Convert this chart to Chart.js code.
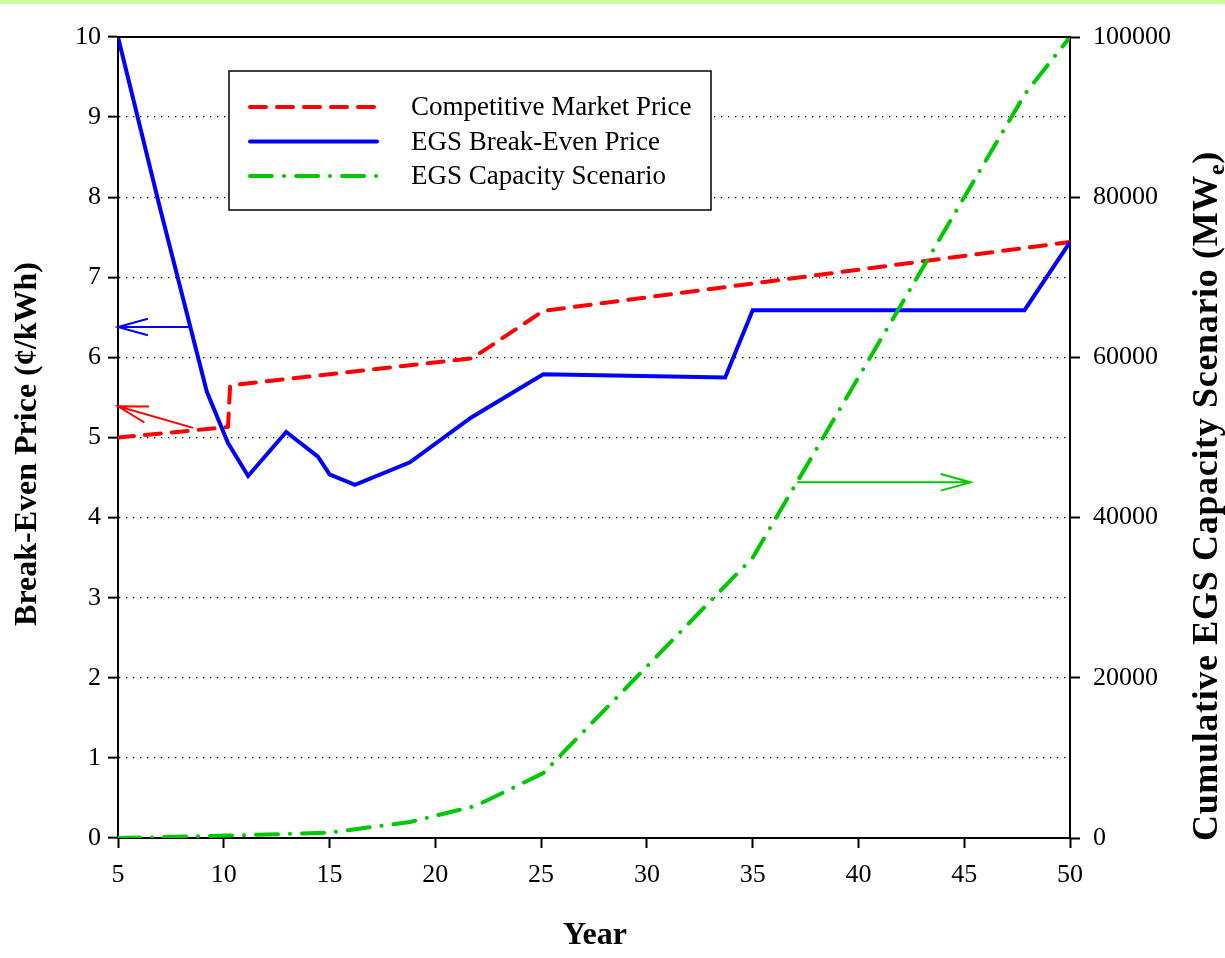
<!DOCTYPE html>
<html>
<head>
<meta charset="utf-8">
<title>EGS Break-Even Price</title>
<script src="https://cdn.jsdelivr.net/npm/chart.js@4.4.0/dist/chart.umd.min.js"></script>
<style>
  html, body { margin: 0; padding: 0; background: #ffffff; }
  canvas { display: block; }
</style>
</head>
<body>
<canvas id="chart" width="1225" height="958"></canvas>
<script>
// ---- data -------------------------------------------------------------
const yearTicks = [5, 10, 15, 20, 25, 30, 35, 40, 45, 50];
const priceTicks = [0, 1, 2, 3, 4, 5, 6, 7, 8, 9, 10];
const capacityTicks = [0, 20000, 40000, 60000, 80000, 100000];

// Competitive market price (cents/kWh)
const marketYears  = [5, 10.2, 10.3, 21.75, 25.1, 50];
const marketPrice  = [5.0, 5.13, 5.65, 5.99, 6.58, 7.44];

// EGS break-even price (cents/kWh)
const egsYears     = [5, 7, 9.2, 10.2, 11.15, 12.95, 14.45, 15.0, 16.2, 18.8, 21.7, 25.1, 33.7, 35.0, 47.85, 50];
const egsPrice     = [10, 7.85, 5.57, 4.93, 4.52, 5.07, 4.76, 4.54, 4.41, 4.69, 5.25, 5.79, 5.75, 6.59, 6.59, 7.44];

// Cumulative EGS capacity scenario (MWe)
const capYears     = [5, 10.2, 15, 16.2, 18.8, 21.9, 25.1, 35, 40, 45, 47.9, 50];
const capacity     = [0, 300, 660, 1100, 2000, 4000, 8100, 35000, 57500, 80000, 93000, 100000];

// Arrows tying each curve to its axis: [year, value] pairs
const priceArrowBlue  = [[8.4, 6.38], [5, 6.38]];
const priceArrowRed   = [[8.55, 5.12], [5, 5.39]];
const capacityArrow   = [[37.1, 44400], [45.3, 44400]];

const seriesNames = ['Competitive Market Price', 'EGS Break-Even Price', 'EGS Capacity Scenario'];

// ---- styling ----------------------------------------------------------
const RED = '#ff0000', BLUE = '#0000ff', GREEN = '#00c800';
const SERIF = '"Liberation Serif", "Times New Roman", serif';
const tickFont = { family: SERIF, size: 26 };
const redDash = [16, 11];
const greenDash = [22, 12, 0.01, 12];

const pairs = (xs, ys) => xs.map((x, i) => ({ x: x, y: ys[i] }));
const setTicks = list => scale => { scale.ticks = list.map(v => ({ value: v })); };

// Background, top band, frame line, titles, arrows and the boxed key
const decorations = {
  id: 'decorations',
  beforeDraw(chart) {
    const ctx = chart.ctx;
    ctx.save();
    ctx.fillStyle = '#ffffff';
    ctx.fillRect(0, 0, chart.width, chart.height);
    ctx.fillStyle = '#ccff99';
    ctx.fillRect(0, 0, chart.width, 4);
    ctx.restore();
  },
  afterDatasetsDraw(chart) {
    const ctx = chart.ctx;
    const area = chart.chartArea;
    const sx = chart.scales.x, sy = chart.scales.y, sy2 = chart.scales.y2;

    // top frame line
    ctx.save();
    ctx.strokeStyle = '#000';
    ctx.lineWidth = 2;
    ctx.beginPath();
    ctx.moveTo(area.left, area.top);
    ctx.lineTo(area.right, area.top);
    ctx.stroke();
    ctx.restore();

    // arrows
    const arrow = (pts, yScale, color) => {
      const x1 = sx.getPixelForValue(pts[0][0]), y1 = yScale.getPixelForValue(pts[0][1]);
      const x2 = sx.getPixelForValue(pts[1][0]), y2 = yScale.getPixelForValue(pts[1][1]);
      const ang = Math.atan2(y1 - y2, x1 - x2);
      const len = 31, spread = 15.5 * Math.PI / 180;
      ctx.save();
      ctx.strokeStyle = color;
      ctx.lineWidth = 2;
      ctx.beginPath();
      ctx.moveTo(x1, y1);
      ctx.lineTo(x2, y2);
      ctx.moveTo(x2 + len * Math.cos(ang + spread), y2 + len * Math.sin(ang + spread));
      ctx.lineTo(x2, y2);
      ctx.lineTo(x2 + len * Math.cos(ang - spread), y2 + len * Math.sin(ang - spread));
      ctx.stroke();
      ctx.restore();
    };
    arrow(priceArrowBlue, sy, BLUE);
    arrow(priceArrowRed, sy, RED);
    arrow(capacityArrow, sy2, GREEN);

    // key box
    const bx = area.left + 111, by = area.top + 34, bw = 482, bh = 139;
    ctx.save();
    ctx.fillStyle = '#fff';
    ctx.fillRect(bx, by, bw, bh);
    ctx.strokeStyle = '#000';
    ctx.lineWidth = 1.5;
    ctx.strokeRect(bx, by, bw, bh);
    const rows = [
      { color: RED, dash: redDash },
      { color: BLUE, dash: [] },
      { color: GREEN, dash: greenDash }
    ];
    rows.forEach((r, i) => {
      const yy = by + 36 + i * 34.5;
      ctx.strokeStyle = r.color;
      ctx.lineWidth = 4;
      ctx.lineCap = 'round';
      ctx.setLineDash(r.dash);
      ctx.beginPath();
      ctx.moveTo(bx + 21, yy);
      ctx.lineTo(bx + 148, yy);
      ctx.stroke();
      ctx.setLineDash([]);
      ctx.fillStyle = '#000';
      ctx.font = '27px ' + SERIF;
      ctx.textAlign = 'left';
      ctx.textBaseline = 'middle';
      ctx.fillText(seriesNames[i], bx + 182, yy + 1);
    });
    ctx.restore();

    // axis titles
    ctx.save();
    ctx.fillStyle = '#000';
    ctx.font = 'bold 32px ' + SERIF;
    ctx.textAlign = 'center';
    ctx.textBaseline = 'middle';
    ctx.fillText('Year', (area.left + area.right) / 2 + 1, 936);

    ctx.save();
    ctx.translate(28, 444);
    ctx.rotate(-Math.PI / 2);
    ctx.fillText('Break-Even Price (\u00a2/kWh)', 0, 0);
    ctx.restore();

    // right-hand title with subscript, sized to span ~690 px
    ctx.save();
    ctx.translate(1208, 496);
    ctx.rotate(-Math.PI / 2);
    const main = 'Cumulative EGS Capacity Scenario (MW', sub = 'e', tail = ')';
    const bigFont = 'bold 36px ' + SERIF, smallFont = 'bold 24px ' + SERIF;
    const span = 690;
    ctx.font = bigFont;
    const n1 = ctx.measureText(main).width, n3 = ctx.measureText(tail).width;
    ctx.font = smallFont;
    const n2 = ctx.measureText(sub).width;
    const natural = n1 + n2 + n3;
    const chars = main.length + sub.length + tail.length;
    const hasSpacing = ('letterSpacing' in ctx);
    const sp = hasSpacing ? Math.max(0, (span - natural) / chars) : 0;
    if (!hasSpacing && natural < span) ctx.scale(span / natural, 1);
    const setF = f => { ctx.font = f; if (hasSpacing) ctx.letterSpacing = sp + 'px'; };
    const w1 = n1 + sp * main.length, w2 = n2 + sp * sub.length, w3 = n3 + sp * tail.length;
    const x0 = -(w1 + w2 + w3) / 2;
    ctx.textAlign = 'left';
    setF(bigFont);
    ctx.fillText(main, x0, 0);
    setF(smallFont);
    ctx.fillText(sub, x0 + w1, 10);
    setF(bigFont);
    ctx.fillText(tail, x0 + w1 + w2, 0);
    if (hasSpacing) ctx.letterSpacing = '0px';
    ctx.restore();
    ctx.restore();
  }
};

new Chart(document.getElementById('chart'), {
  type: 'line',
  data: {
    datasets: [
      {
        label: seriesNames[0],
        data: pairs(marketYears, marketPrice),
        yAxisID: 'y',
        borderColor: RED,
        borderWidth: 4,
        borderDash: redDash,
        borderCapStyle: 'round',
        borderJoinStyle: 'round',
        fill: false,
        order: 3
      },
      {
        label: seriesNames[1],
        data: pairs(egsYears, egsPrice),
        yAxisID: 'y',
        borderColor: BLUE,
        borderWidth: 4,
        borderJoinStyle: 'miter',
        fill: false,
        order: 2
      },
      {
        label: seriesNames[2],
        data: pairs(capYears, capacity),
        yAxisID: 'y2',
        borderColor: GREEN,
        borderWidth: 4,
        borderDash: greenDash,
        borderCapStyle: 'round',
        borderJoinStyle: 'round',
        fill: false,
        order: 1
      }
    ]
  },
  options: {
    responsive: false,
    animation: false,
    devicePixelRatio: 1,
    layout: { padding: { top: 37, left: 0, right: 0, bottom: 0 } },
    plugins: { legend: { display: false }, tooltip: { enabled: false }, title: { display: false } },
    elements: { point: { radius: 0, hoverRadius: 0 }, line: { tension: 0 } },
    scales: {
      x: {
        type: 'linear',
        min: 5, max: 50,
        afterBuildTicks: setTicks(yearTicks),
        afterFit: s => { s.height = 120; },
        grid: { drawOnChartArea: false, tickLength: 10, tickWidth: 2, tickColor: '#000' },
        border: { color: '#000', width: 2 },
        ticks: { font: tickFont, color: '#000', padding: 12, maxRotation: 0, autoSkip: false }
      },
      y: {
        type: 'linear',
        position: 'left',
        min: 0, max: 10,
        afterBuildTicks: setTicks(priceTicks),
        afterFit: s => { s.width = 118; },
        grid: {
          color: c => (c.tick && c.tick.value > 0 && c.tick.value < 10) ? '#000' : 'rgba(0,0,0,0)',
          lineWidth: 1.3,
          tickLength: 10, tickWidth: 2, tickColor: '#000'
        },
        border: { color: '#000', width: 2, dash: [1.3, 5.7] },
        ticks: { font: tickFont, color: '#000', padding: 7, autoSkip: false }
      },
      y2: {
        type: 'linear',
        position: 'right',
        min: 0, max: 100000,
        afterBuildTicks: setTicks(capacityTicks),
        afterFit: s => { s.width = 155; },
        grid: { drawOnChartArea: false, tickLength: 10, tickWidth: 2, tickColor: '#000' },
        border: { color: '#000', width: 2 },
        ticks: { font: tickFont, color: '#000', padding: 13, autoSkip: false, callback: v => String(v) }
      }
    }
  },
  plugins: [decorations]
});
</script>
</body>
</html>
